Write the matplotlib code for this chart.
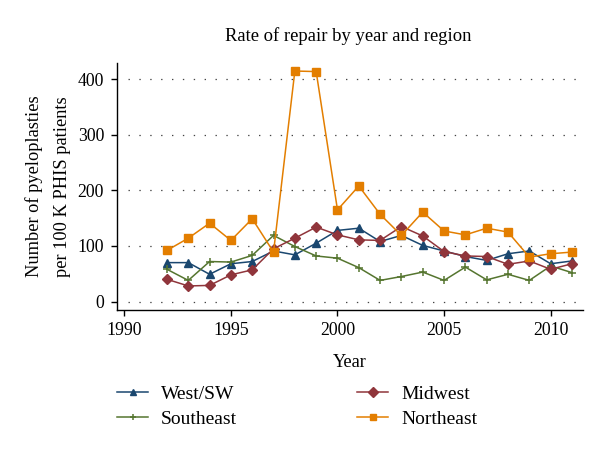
import matplotlib
matplotlib.use("Agg")
import matplotlib.pyplot as plt

plt.rcParams['font.family'] = ['Liberation Serif', 'DejaVu Serif']

years = list(range(1992, 2012))
west_sw = [70, 70, 49, 68, 72, 91, 84, 105, 128, 132, 108, 119, 101, 91, 81, 74, 86, 91, 68, 73]
midwest = [40, 28, 29, 48, 57, 95, 114, 134, 120, 111, 110, 135, 118, 90, 82, 81, 67, 73, 58, 68]
southeast = [58, 38, 72, 71, 83, 119, 99, 82, 78, 61, 38, 45, 53, 38, 62, 39, 49, 38, 64, 52]
northeast = [92, 114, 141, 110, 149, 89, 415, 414, 165, 208, 157, 119, 161, 127, 120, 132, 125, 80, 86, 89]

xticks = [1990, 1995, 2000, 2005, 2010]
yticks = [0, 100, 200, 300, 400]

c_navy = '#1a476f'
c_maroon = '#90353b'
c_green = '#55752f'
c_orange = '#e37e00'

fig = plt.figure(figsize=(6.0, 4.51), dpi=100)
ax = fig.add_axes([0.1955, 0.313, 0.7755, 0.548])

for y in yticks:
    ax.axhline(y, xmin=0.022, xmax=0.99, color='#444444', linewidth=0.9,
               linestyle=(0, (1.1, 7.6)), zorder=0)

lw = 1.1
l_w, = ax.plot(years, west_sw, color=c_navy, lw=lw, marker='^', ms=6.2, label='West/SW', zorder=3)
l_s, = ax.plot(years, southeast, color=c_green, lw=lw, marker='+', ms=6, mew=1.1, label='Southeast', zorder=3)
l_m, = ax.plot(years, midwest, color=c_maroon, lw=lw, marker='D', ms=5, label='Midwest', zorder=3)
l_n, = ax.plot(years, northeast, color=c_orange, lw=lw, marker='s', ms=5.5, label='Northeast', zorder=3)

ax.set_xlim(1989.67, 2011.5)
ax.set_ylim(-15, 430)
ax.set_xticks(xticks)
ax.set_yticks(yticks)
ax.tick_params(axis='both', direction='out', length=4.5, width=1.0, labelsize=12.8, colors='black')
ax.tick_params(axis='y', pad=5)
ax.tick_params(axis='x', pad=4)
for side in ['top', 'right']:
    ax.spines[side].set_visible(False)
for side in ['left', 'bottom']:
    ax.spines[side].set_linewidth(1.0)

ax.set_xlabel('Year', fontsize=13.2, labelpad=11)
ax.set_ylabel('Number of pyeloplasties\nper 100 K PHIS patients', fontsize=13.2, labelpad=5, linespacing=1.8)

fig.text(0.58, 0.920, 'Rate of repair by year and region', ha='center', va='center', fontsize=13.4)

leg_kw = dict(loc='upper left', frameon=False, fontsize=14, handlelength=1.6,
              handletextpad=0.67, labelspacing=0.38, borderaxespad=0, borderpad=0)
leg1 = fig.legend(handles=[l_w, l_s], bbox_to_anchor=(0.195, 0.145), **leg_kw)
leg2 = fig.legend(handles=[l_m, l_n], bbox_to_anchor=(0.595, 0.145), **leg_kw)
for lg in (leg1, leg2):
    for h in lg.legend_handles:
        h.set_markersize(4.8)

fig.savefig('out.png', dpi=100)
